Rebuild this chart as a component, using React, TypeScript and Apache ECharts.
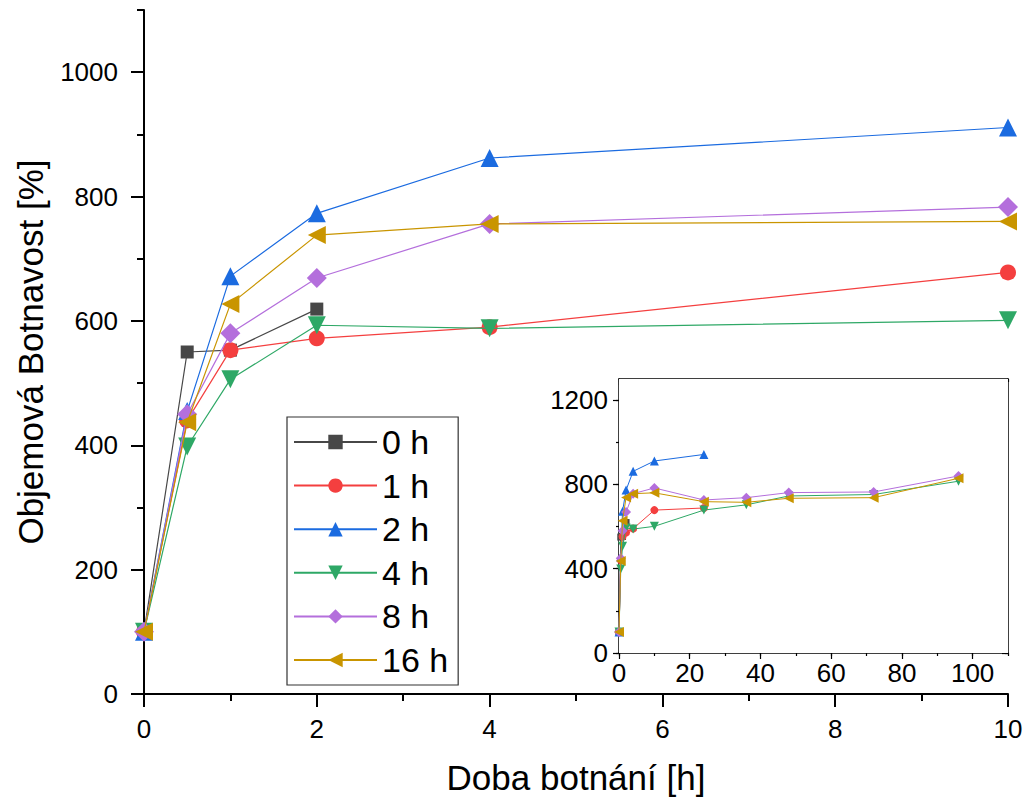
import React, { useEffect, useRef } from "react";
import * as echarts from "echarts";

// ---- data ----
const seriesNames = ["0 h", "1 h", "2 h", "4 h", "8 h", "16 h"];
const timeX = [0, 0.5, 1, 2, 4, 10, 24, 36, 48, 72, 96];
const h0 = [100, 550, 553, 619];
const h1 = [100, 440, 553, 572, 590, 678, 688];
const h2 = [100, 455, 672, 773, 862, 911, 942];
const h4 = [100, 398, 506, 593, 588, 601, 678, 703, 745, 752, 815];
const h8 = [100, 450, 580, 669, 756, 783, 726, 737, 761, 764, 840];
const h16 = [100, 437, 627, 738, 756, 760, 718, 715, 734, 737, 829];

const mainXTicks = [0, 1, 2, 3, 4, 5, 6, 7, 8, 9, 10];
const mainXLabels = [0, 2, 4, 6, 8, 10];
const mainYTicks = [0, 100, 200, 300, 400, 500, 600, 700, 800, 900, 1000, 1100];
const mainYLabels = [0, 200, 400, 600, 800, 1000];
const insetXTicks = [0, 10, 20, 30, 40, 50, 60, 70, 80, 90, 100, 110];
const insetXLabels = [0, 20, 40, 60, 80, 100];
const insetYTicks = [0, 200, 400, 600, 800, 1000, 1200];
const insetYLabels = [0, 400, 800, 1200];

const colors = ["#474747", "#F43F3F", "#1B6BE0", "#2EA866", "#B46FDC", "#C99500"];
const symbols = ["rect", "circle", "triangle", "triangle", "diamond", "triangle"];
const rotates = [0, 0, 0, 180, 0, 90];
const mainSizes = [13, 16, 18, 18, 20, 18];
const insetSizes = [7, 8, 9, 9, 10, 10];

const FONT = "'Liberation Sans', Arial, sans-serif";
const plain = (v: number) => String(v);

function pairs(vals: number[]) {
  return vals.map((v, i) => [timeX[i], v]);
}

export default function App() {
  const ref = useRef<HTMLDivElement>(null);
  useEffect(() => {
    if (!ref.current) return;
    const chart = echarts.init(ref.current, undefined, { renderer: "svg" });
    const all = [h0, h1, h2, h4, h8, h16];

    const axisCommon = (o: any) => ({
      type: "value",
      splitLine: { show: false },
      ...o,
    });
    const lbl = (vals: number[], margin: number) => ({
      customValues: vals, formatter: plain, color: "#000", fontSize: 26, fontFamily: FONT, margin,
    });

    const xAxis: any[] = [
      axisCommon({
        gridIndex: 0, position: "bottom", min: 0, max: 10, interval: 1,
        axisLine: { show: true, onZero: false, lineStyle: { color: "#000", width: 2 } },
        axisTick: { show: true, length: 7, customValues: mainXTicks, lineStyle: { color: "#000", width: 2 } },
        axisLabel: lbl(mainXLabels, 22),
        name: "Doba botnání [h]", nameLocation: "middle", nameGap: 66,
        nameTextStyle: { color: "#000", fontSize: 35, fontFamily: FONT },
      }),
      axisCommon({
        gridIndex: 0, position: "bottom", min: 0, max: 10, interval: 2,
        axisLine: { show: false, onZero: false },
        axisTick: { show: true, length: 13, lineStyle: { color: "#000", width: 2 } },
        axisLabel: { show: false },
      }),
      axisCommon({
        gridIndex: 1, position: "bottom", min: 0, max: 110, interval: 10,
        axisLine: { show: true, onZero: false, lineStyle: { color: "#000", width: 1.5 } },
        axisTick: { show: true, length: 3, customValues: insetXTicks, lineStyle: { color: "#000", width: 1.2 } },
        axisLabel: lbl(insetXLabels, 7),
      }),
      axisCommon({
        gridIndex: 1, position: "bottom", min: 0, max: 110, interval: 20,
        axisLine: { show: false, onZero: false },
        axisTick: { show: true, length: 6, customValues: insetXLabels, lineStyle: { color: "#000", width: 1.2 } },
        axisLabel: { show: false },
      }),
      axisCommon({
        gridIndex: 1, position: "top", min: 0, max: 110, interval: 10,
        axisLine: { show: true, onZero: false, lineStyle: { color: "#000", width: 1.5 } },
        axisTick: { show: true, inside: true, length: 3, customValues: insetXTicks, lineStyle: { color: "#000", width: 1.2 } },
        axisLabel: { show: false },
      }),
      axisCommon({
        gridIndex: 1, position: "top", min: 0, max: 110, interval: 20,
        axisLine: { show: false, onZero: false },
        axisTick: { show: true, inside: true, length: 6, customValues: insetXLabels, lineStyle: { color: "#000", width: 1.2 } },
        axisLabel: { show: false },
      }),
    ];

    const yAxis: any[] = [
      axisCommon({
        gridIndex: 0, position: "left", min: 0, max: 1100, interval: 100,
        axisLine: { show: true, onZero: false, lineStyle: { color: "#000", width: 2 } },
        axisTick: { show: true, length: 7, customValues: mainYTicks, lineStyle: { color: "#000", width: 2 } },
        axisLabel: lbl(mainYLabels, 26),
        name: "Objemová Botnavost [%]", nameLocation: "middle", nameGap: 96,
        nameTextStyle: { color: "#000", fontSize: 35, fontFamily: FONT },
      }),
      axisCommon({
        gridIndex: 0, position: "left", min: 0, max: 1100, interval: 100,
        axisLine: { show: false, onZero: false },
        axisTick: { show: true, length: 13, customValues: mainYLabels, lineStyle: { color: "#000", width: 2 } },
        axisLabel: { show: false },
      }),
      axisCommon({
        gridIndex: 1, position: "left", min: 0, max: 1300, interval: 200,
        axisLine: { show: true, onZero: false, lineStyle: { color: "#000", width: 1.5 } },
        axisTick: { show: true, length: 3, customValues: insetYTicks, lineStyle: { color: "#000", width: 1.2 } },
        axisLabel: lbl(insetYLabels, 11),
      }),
      axisCommon({
        gridIndex: 1, position: "left", min: 0, max: 1300, interval: 200,
        axisLine: { show: false, onZero: false },
        axisTick: { show: true, length: 6, customValues: insetYLabels, lineStyle: { color: "#000", width: 1.2 } },
        axisLabel: { show: false },
      }),
      axisCommon({
        gridIndex: 1, position: "right", min: 0, max: 1300, interval: 200,
        axisLine: { show: true, onZero: false, lineStyle: { color: "#000", width: 1.5 } },
        axisTick: { show: true, inside: true, length: 3, customValues: insetYTicks, lineStyle: { color: "#000", width: 1.2 } },
        axisLabel: { show: false },
      }),
      axisCommon({
        gridIndex: 1, position: "right", min: 0, max: 1300, interval: 200,
        axisLine: { show: false, onZero: false },
        axisTick: { show: true, inside: true, length: 6, customValues: insetYLabels, lineStyle: { color: "#000", width: 1.2 } },
        axisLabel: { show: false },
      }),
    ];

    const series: any[] = [];
    all.forEach((vals, i) => {
      series.push({
        name: seriesNames[i],
        type: "line",
        xAxisIndex: 0,
        yAxisIndex: 0,
        data: pairs(vals).filter((p) => p[0] <= 10),
        symbol: symbols[i],
        symbolRotate: rotates[i],
        symbolSize: mainSizes[i],
        showAllSymbol: true,
        lineStyle: { color: colors[i], width: 1.2 },
        itemStyle: { color: colors[i] },
        z: 2 + i,
      });
    });
    all.forEach((vals, i) => {
      series.push({
        name: seriesNames[i],
        type: "line",
        xAxisIndex: 2,
        yAxisIndex: 2,
        data: pairs(vals),
        symbol: symbols[i],
        symbolRotate: rotates[i],
        symbolSize: insetSizes[i],
        showAllSymbol: true,
        clip: false,
        lineStyle: { color: colors[i], width: 1 },
        itemStyle: { color: colors[i] },
        z: 12 + i,
      });
    });

    chart.setOption({
      animation: false,
      backgroundColor: "#fff",
      grid: [
        { left: 144, top: 10, width: 864, height: 684, containLabel: false },
        { left: 619, top: 379, width: 389, height: 274, show: true, backgroundColor: "#fff", borderWidth: 0, z: 10 },
      ],
      legend: {
        left: 287,
        top: 417,
        orient: "vertical",
        data: seriesNames,
        itemWidth: 83,
        itemHeight: 18,
        itemGap: 7.6,
        padding: [7, 10, 7, 6],
        borderColor: "#333",
        borderWidth: 1.2,
        backgroundColor: "#fff",
        textStyle: { color: "#000", fontSize: 34, fontFamily: FONT, lineHeight: 36 },
        selectedMode: false,
      },
      xAxis,
      yAxis,
      series,
    });
    return () => chart.dispose();
  }, []);
  return (
    <div
      ref={ref}
      style={{ width: 1030, height: 805, position: "fixed", left: 0, top: 0 }}
    />
  );
}
